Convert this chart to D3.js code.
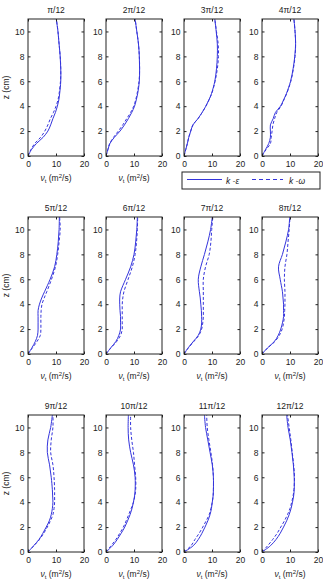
<!DOCTYPE html>
<html><head><meta charset="utf-8">
<script src="https://cdn.jsdelivr.net/npm/d3@7"></script>
<style>body{margin:0;background:#fff}svg{display:block}text{font-family:"Liberation Sans",Arial,sans-serif;fill:#222}</style>
</head><body><svg id="c" width="323" height="581"></svg>
<script>
const titles = ["π/12","2π/12","3π/12","4π/12","5π/12","6π/12","7π/12","8π/12","9π/12","10π/12","11π/12","12π/12"];
const zLevels = [0,0.5,1,1.5,2,2.5,3,3.5,4,4.5,5,6,7,8,9,10,11];
const xTicks = [0,10,20];
const zTicks = [0,2,4,6,8,10];
const kEps = [
 [0,1.2,3,5.4,7.1,8.1,8.9,9.8,10.5,11.0,11.3,11.7,11.7,11.5,11.1,10.7,10.1],
 [0,0.7,1.4,3.0,5.0,6.6,8.0,9.2,10.2,10.8,11.3,11.9,12.0,11.9,11.6,11.0,10.4],
 [0,0.6,1.2,1.7,2.4,3.2,5.0,6.5,7.8,8.9,9.8,11.0,11.6,11.9,11.9,11.5,11.0],
 [0,1.2,2.4,3.0,3.0,3.0,4.0,4.8,6.6,7.7,8.7,10.2,11.1,11.7,12.0,11.8,11.4],
 [0,1.4,2.6,3.4,3.6,3.6,3.6,3.6,4.1,4.9,5.9,7.9,9.5,10.3,10.8,11.1,11.2],
 [0,1.7,3.5,4.6,5.2,5.2,5.2,5.0,4.9,4.9,5.2,7.0,8.8,10.0,10.6,11.0,11.2],
 [0,1.5,3.3,5.1,6.0,6.3,6.3,6.2,6.0,5.8,5.5,5.1,6.0,7.3,8.5,9.5,10.1],
 [0,2.0,4.4,5.8,6.7,7.3,7.7,7.7,7.7,7.5,7.3,6.5,5.9,7.3,8.5,9.5,9.9],
 [0,2.0,3.9,5.3,6.5,7.6,8.3,8.7,8.9,8.8,8.7,8.3,7.7,6.9,7.1,8.1,8.7],
 [0,2.3,4.0,5.4,6.7,7.7,8.6,9.3,9.8,10.2,10.4,10.4,9.8,8.8,8.1,7.9,8.0],
 [0,3.3,5.1,6.4,7.5,8.5,9.3,9.8,10.1,10.4,10.5,10.5,10.1,9.3,8.5,7.7,7.3],
 [0,3.0,5.0,6.5,7.7,8.8,9.7,10.4,10.9,11.3,11.5,11.5,11.2,10.7,10.1,9.3,8.8]
];
const kOmega = [
 [0,1.0,2.4,4.5,6.0,7.1,8.0,9.1,10.0,10.7,11.1,11.6,11.7,11.5,11.1,10.7,10.1],
 [0,0.6,1.3,2.7,4.4,6.0,7.4,8.8,9.9,10.6,11.1,11.8,12.0,11.9,11.6,11.0,10.4],
 [0,0.6,1.2,1.7,2.4,3.2,5.0,6.5,7.8,8.9,9.9,11.1,11.9,12.3,12.2,11.6,11.0],
 [0,1.4,3.0,3.3,3.6,3.9,4.5,5.3,6.8,7.8,8.8,10.3,11.2,11.8,12.0,11.8,11.4],
 [0,1.6,3.2,4.4,4.6,4.6,4.6,4.7,5.0,5.8,6.7,8.4,9.8,10.6,11.1,11.5,11.3],
 [0,1.8,3.8,5.2,5.8,5.8,5.8,5.8,5.8,6.0,6.4,7.9,9.4,10.4,10.9,11.2,11.3],
 [0,1.6,3.5,5.3,6.3,6.7,6.9,6.9,6.9,6.9,6.9,6.9,7.7,9.0,9.6,9.9,10.3],
 [0,2.1,4.6,6.2,7.2,7.7,8.0,8.1,8.2,8.2,8.2,8.0,8.2,8.9,9.3,9.7,10.0],
 [0,2.1,4.1,5.6,6.9,8.0,8.9,9.3,9.5,9.5,9.5,9.3,8.9,8.1,8.3,8.9,8.9],
 [0,1.8,3.5,4.9,6.2,7.2,8.1,9.0,9.8,10.3,10.6,10.6,10.2,9.8,9.2,8.8,8.8],
 [0,2.5,3.9,5.4,6.7,7.9,9.0,9.6,10.1,10.4,10.5,10.5,10.2,9.6,8.9,8.3,8.1],
 [0,2.0,3.8,5.4,6.7,8.0,9.1,10.0,10.6,11.1,11.4,11.6,11.3,10.8,10.3,9.7,9.1]
];
const legendLabels = ["k -ε","k -ω"];

const svg = d3.select("#c");
const lineColor = "#3434dc";
const colLeft = [28,106,184,262], rowTop = [19,217,415];
const pw = 56, ph = 137;

titles.forEach((t,i)=>{
  const r = Math.floor(i/4), c = i%4;
  const g = svg.append("g").attr("transform",`translate(${colLeft[c]},${rowTop[r]})`);
  const x = d3.scaleLinear().domain([0,20]).range([0,pw]);
  const y = d3.scaleLinear().domain([0,11]).range([ph,0]);
  const line = d3.line().x(d=>x(d[0])).y(d=>y(d[1])).curve(d3.curveCatmullRom.alpha(0.5));
  const clip = "clip"+i;
  g.append("clipPath").attr("id",clip).append("rect").attr("width",pw).attr("height",ph);
  const pe = kEps[i].map((v,j)=>[v,zLevels[j]]);
  const po = kOmega[i].map((v,j)=>[v,zLevels[j]]);
  g.append("path").attr("clip-path",`url(#${clip})`).attr("d",line(po)).attr("fill","none").attr("stroke",lineColor).attr("stroke-width",1).attr("stroke-dasharray","3,2");
  g.append("path").attr("clip-path",`url(#${clip})`).attr("d",line(pe)).attr("fill","none").attr("stroke",lineColor).attr("stroke-width",1);
  const ax = g.append("g").attr("transform",`translate(0,${ph})`).call(d3.axisBottom(x).tickValues(xTicks).tickSize(-2.5).tickPadding(4.5));
  const axT = g.append("g").call(d3.axisTop(x).tickValues(xTicks).tickSize(-2.5).tickFormat(""));
  const ay = g.append("g").call(d3.axisLeft(y).tickValues(zTicks).tickSize(-2.5).tickPadding(3.5));
  const ayR = g.append("g").attr("transform",`translate(${pw},0)`).call(d3.axisRight(y).tickValues(zTicks).tickSize(-2.5).tickFormat(""));
  [ax,axT,ay,ayR].forEach(a=>{a.select(".domain").remove(); a.selectAll("line").attr("stroke","#222"); a.selectAll("text").attr("font-size",8.5).attr("fill","#222").attr("font-family","Liberation Sans, Arial, sans-serif");});
  g.append("rect").attr("width",pw).attr("height",ph).attr("fill","none").attr("stroke","#222").attr("stroke-width",1);
  g.append("text").attr("x",pw/2).attr("y",-6).attr("text-anchor","middle").attr("font-size",8.5).text(t);
  if(!(r===0 && c>=2)){
    const xl = g.append("text").attr("x",pw/2).attr("y",ph+24.5).attr("text-anchor","middle").attr("font-size",8.5);
    xl.append("tspan").text("ν").attr("font-style","italic");
    xl.append("tspan").text("t").attr("font-size",6).attr("dy",2);
    xl.append("tspan").text(" (m").attr("dy",-2);
    xl.append("tspan").text("2").attr("font-size",6).attr("dy",-3);
    xl.append("tspan").text("/s)").attr("dy",3);
  }
  if(c===0){
    g.append("text").attr("transform",`translate(${-19},${ph/2}) rotate(-90)`).attr("text-anchor","middle").attr("font-size",8.5).text("z (cm)");
  }
});
const lg = svg.append("g").attr("transform","translate(182,172)");
lg.append("rect").attr("width",138).attr("height",17).attr("fill","#fff").attr("stroke","#222").attr("stroke-width",1);
lg.append("line").attr("x1",5).attr("x2",40).attr("y1",7.5).attr("y2",7.5).attr("stroke",lineColor).attr("stroke-width",1);
lg.append("text").attr("x",44).attr("y",11.5).attr("font-size",8.5).attr("font-style","italic").text(legendLabels[0]);
lg.append("line").attr("x1",70).attr("x2",101).attr("y1",7.5).attr("y2",7.5).attr("stroke",lineColor).attr("stroke-width",1).attr("stroke-dasharray","4,3");
lg.append("text").attr("x",107).attr("y",11.5).attr("font-size",8.5).attr("font-style","italic").text(legendLabels[1]);
</script></body></html>
